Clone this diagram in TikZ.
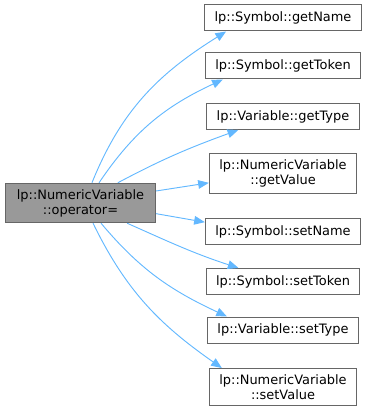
\documentclass[tikz,border=0pt]{standalone}
\usepackage{fontspec}
\setmainfont{DejaVu Sans}
\usepackage{xcolor}
\usetikzlibrary{arrows.meta,positioning}
\definecolor{edgeblue}{HTML}{63B8FF}
\definecolor{boxgrey}{HTML}{666666}
\definecolor{mainfill}{HTML}{999999}

\begin{document}
\begin{tikzpicture}
[
	x=0.75pt, y=-0.75pt,
	func/.style = {rectangle, draw=boxgrey, fill=white, line width=0.75pt, inner xsep=7.5pt, inner ysep=4.5pt, minimum height=19.5pt, align=center, font=\fontsize{9.7}{11.2}\selectfont},
	current/.style = {func, fill=mainfill, inner xsep=8.5pt},
	call/.style = {-{Triangle[length=8pt,width=6.5pt]}, edgeblue, line width=0.7pt}
]
\useasboundingbox (0,0) rectangle (368,413);

\node[current] (opassign) at (80.5,203) {lp::NumericVariable\\::operator=};

\node[func] (getname) at (283,18) {lp::Symbol::getName};
\node[func] (gettoken) at (283,66) {lp::Symbol::getToken};
\node[func] (gettype) at (283,116.5) {lp::Variable::getType};
\node[func] (getvalue) at (283,173.5) {lp::NumericVariable\\::getValue};
\node[func] (setname) at (283,231.5) {lp::Symbol::setName};
\node[func] (settoken) at (283,281.5) {lp::Symbol::setToken};
\node[func] (settype) at (283,330) {lp::Variable::setType};
\node[func] (setvalue) at (283,387) {lp::NumericVariable\\::setValue};

\draw[call] ([xshift=8.6pt]opassign.north) to[out=68,in=212] ([xshift=16.5pt]getname.south west);
\draw[call] ([xshift=13.9pt]opassign.north) to[out=56,in=205] ([xshift=13.5pt]gettoken.south west);
\draw[call] ([xshift=28pt]opassign.north) to[out=28,in=200] ([xshift=24pt]gettype.south west);
\draw[call] ([yshift=9pt]opassign.east) -- ([yshift=-7pt]getvalue.west);
\draw[call] ([yshift=-8pt]opassign.east) -- ([yshift=7pt]setname.west);
\draw[call] ([xshift=35pt]opassign.south) to[out=-24,in=162] ([xshift=24.75pt]settoken.north west);
\draw[call] ([xshift=15.4pt]opassign.south) to[out=-50,in=155] ([xshift=15pt]settype.north west);
\draw[call] ([xshift=9.4pt]opassign.south) to[out=-64,in=145] ([xshift=9.75pt]setvalue.north west);

\end{tikzpicture}
\end{document}
